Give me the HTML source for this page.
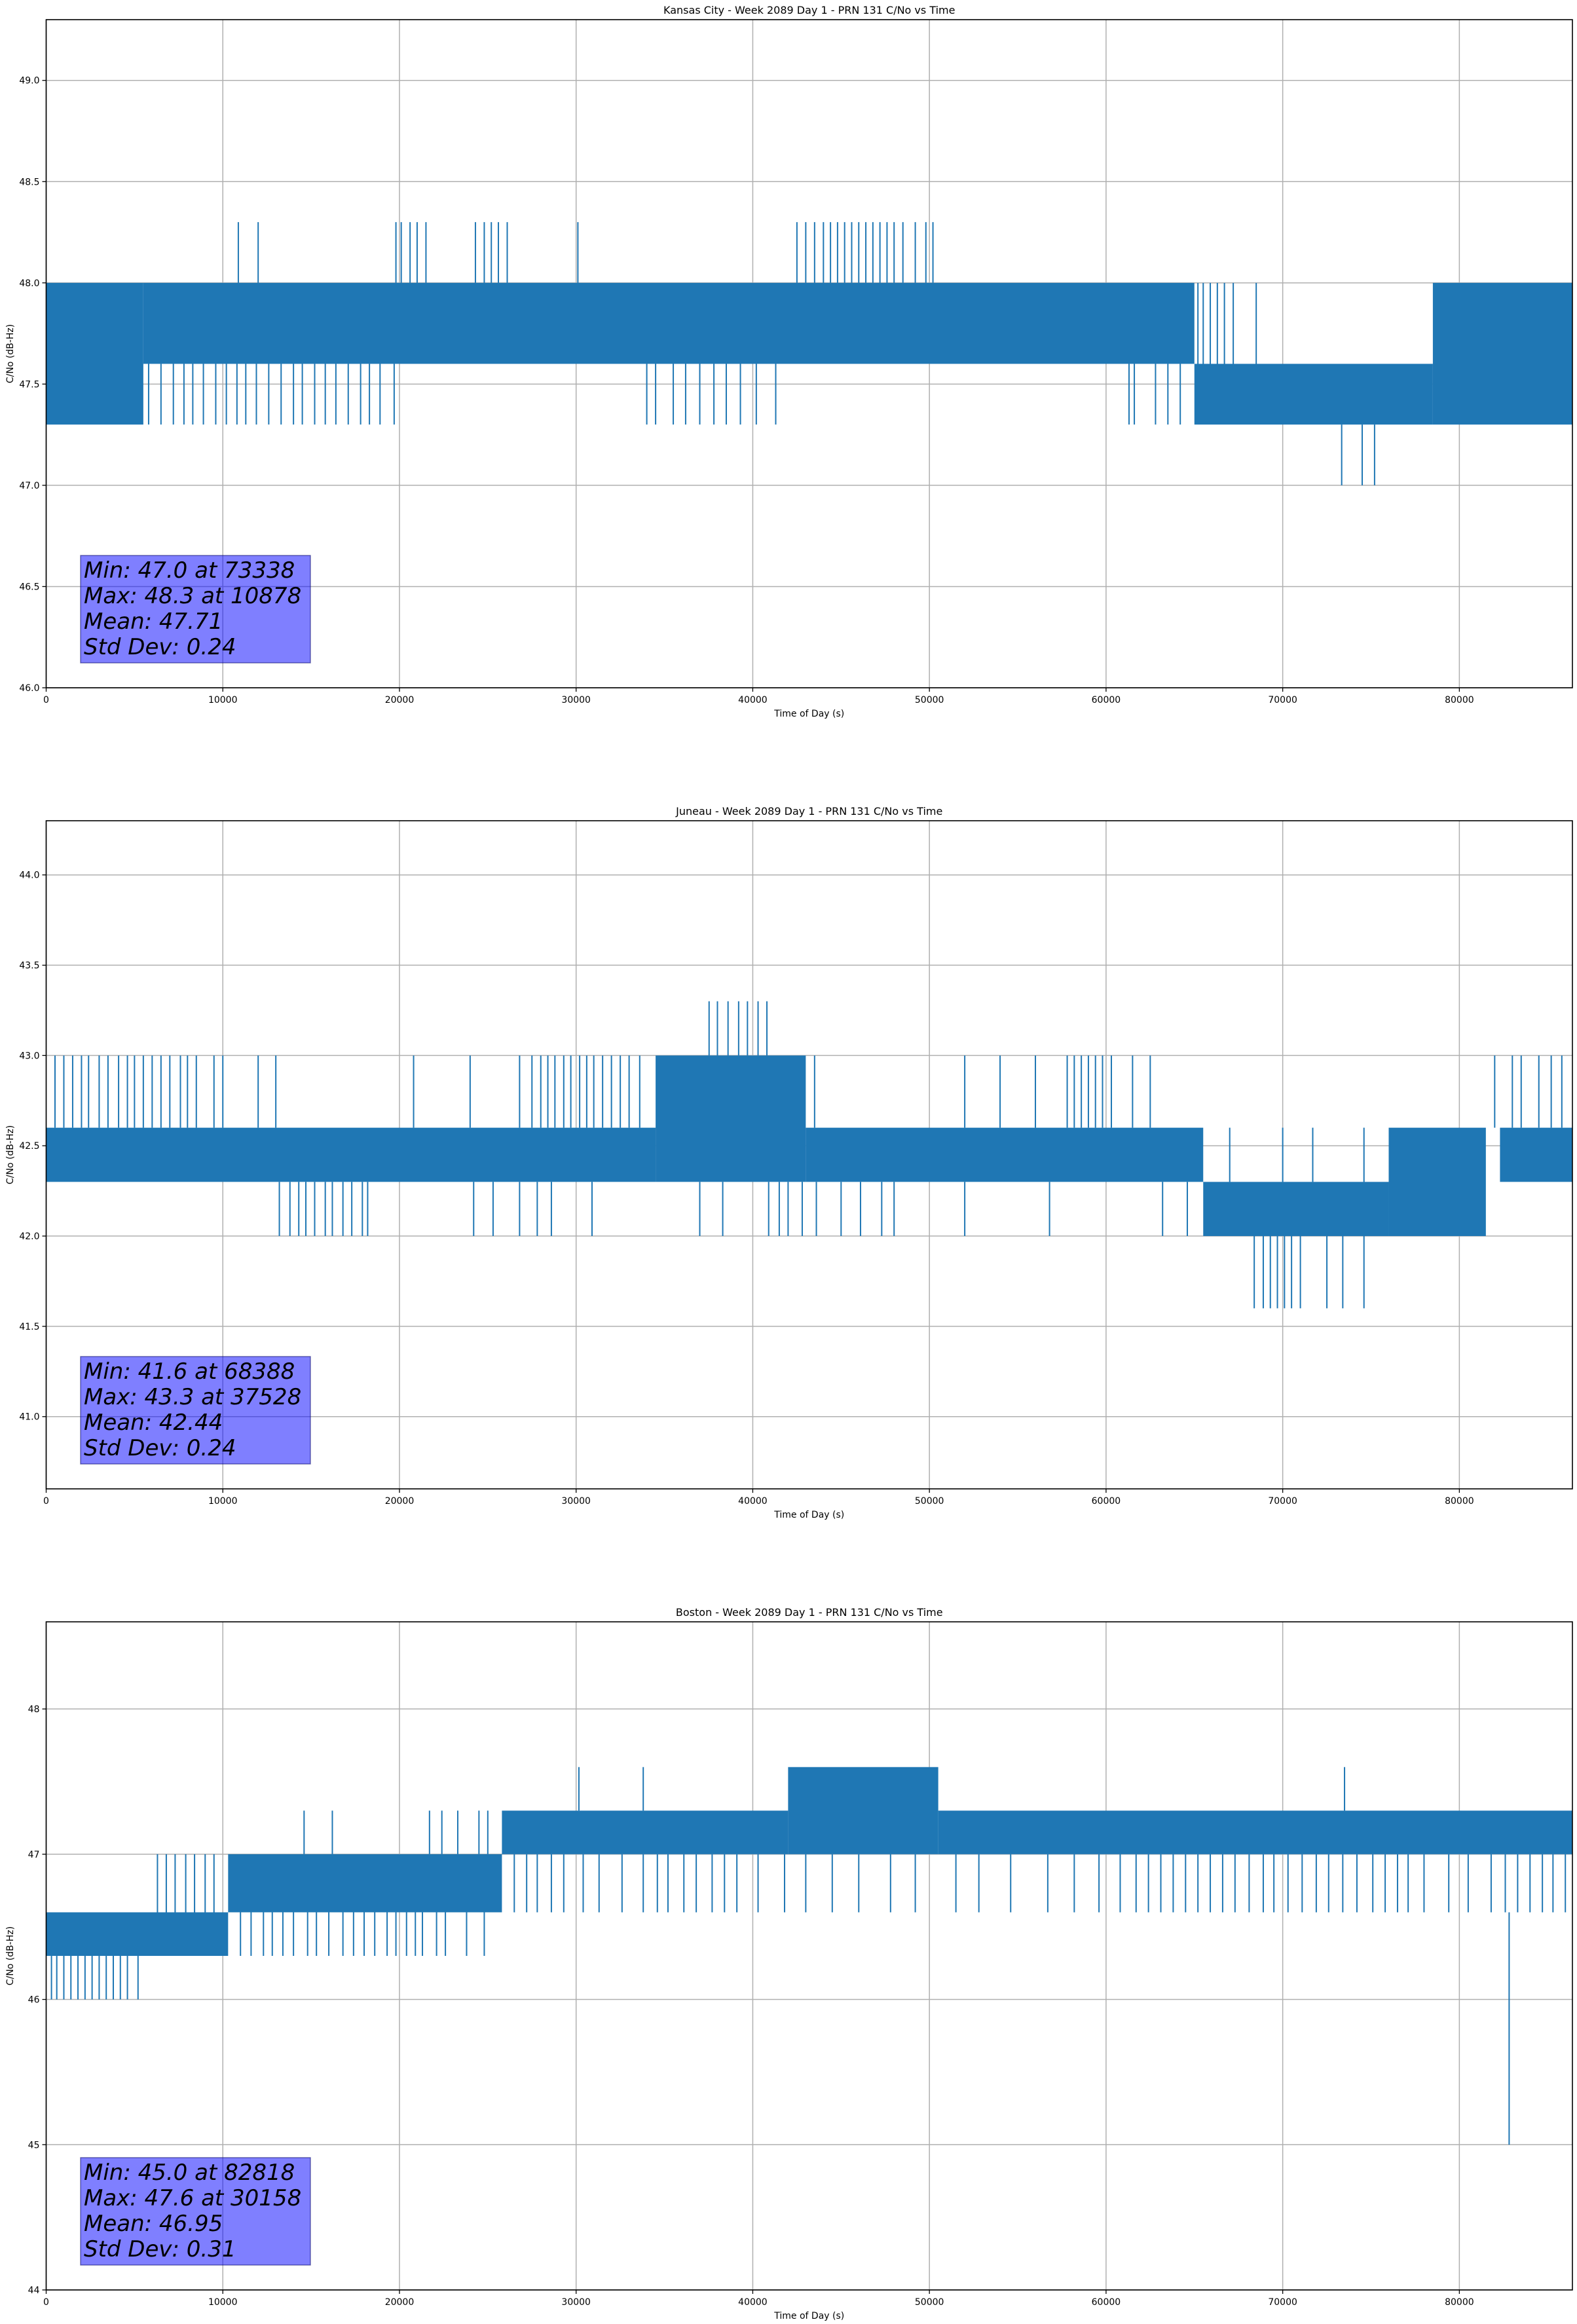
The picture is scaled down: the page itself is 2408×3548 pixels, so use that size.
<!DOCTYPE html>
<html><head><meta charset="utf-8">
<style>
html,body{margin:0;padding:0;background:#fff;}
svg{display:block;}
text{font-family:"DejaVu Sans","Liberation Sans",sans-serif;fill:#000;}
</style></head>
<body>
<svg id="fig" width="2408" height="3548" viewBox="0 0 2408 3548" xmlns="http://www.w3.org/2000/svg"></svg>
<script>
// ---------- Data ----------
const xTicks = [0,10000,20000,30000,40000,50000,60000,70000,80000];
const xMax = 86400;

// Kansas City
const kcTitle = "Kansas City - Week 2089 Day 1 - PRN 131 C/No vs Time";
const kcYTicks = [46.0,46.5,47.0,47.5,48.0,48.5,49.0];
const kcYRange = [46.0,49.3];
const kcBandStart = [0,5500,65000,78500];
const kcBandEnd = [5500,65000,78500,86400];
const kcBandLow = [47.3,47.6,47.3,47.3];
const kcBandHigh = [48.0,48.0,47.6,48.0];
const kcDownT = [5800,6500,7200,7800,8300,8900,9600,10200,10800,11300,11900,12600,13300,14000,14500,15200,15800,16400,17100,17800,18300,18900,19700,34000,34500,35500,36200,37000,37800,38500,39300,40200,41300,61300,61600,62800,63500,64200];
const kcUpT = [10878,12000,19800,20100,20600,21000,21500,24300,24800,25200,25600,26100,30100,42500,43000,43500,44000,44400,44800,45200,45600,46000,46400,46800,47200,47600,48000,48500,49200,49800,50200];
const kcMidUpT = [65200,65500,65900,66300,66700,67200,68500];
const kcMinT = [73338,74500,75200];
const kcStats = ["Min: 47.0 at 73338","Max: 48.3 at 10878","Mean: 47.71","Std Dev: 0.24"];

// Juneau
const jnTitle = "Juneau - Week 2089 Day 1 - PRN 131 C/No vs Time";
const jnYTicks = [41.0,41.5,42.0,42.5,43.0,43.5,44.0];
const jnYRange = [40.6,44.3];
const jnBandStart = [0,34500,43000,65500,76000,82300];
const jnBandEnd = [34500,43000,65500,76000,81500,86400];
const jnBandLow = [42.3,42.3,42.3,42.0,42.0,42.3];
const jnBandHigh = [42.6,43.0,42.6,42.3,42.6,42.6];
const jnUpT = [500,1000,1500,2000,2400,3000,3500,4100,4600,5000,5500,6000,6500,7000,7600,8000,8500,9500,10000,12000,13000,20800,24000,26800,27500,28000,28400,28800,29300,29700,30200,30600,31000,31500,32000,32500,33000,33600,43500,52000,54000,56000,57800,58200,58600,59000,59400,59800,60300,61500,62500,82000,83000,83500,84500,85200,85800];
const jnTopT = [37528,38000,38600,39200,39700,40300,40800];
const jnDownT = [13200,13800,14300,14700,15200,15800,16200,16800,17300,17900,18200,24200,25300,26800,27800,28600,30900,37000,38300,40900,41500,42000,42800,43600,45000,46100,47300,48000,52000,56800,63200,64600];
const jnLowT = [68388,68900,69300,69700,70100,70500,71000,72500,73400,74600];
const jnMidUpT = [67000,70000,71700,74600];
const jnStats = ["Min: 41.6 at 68388","Max: 43.3 at 37528","Mean: 42.44","Std Dev: 0.24"];

// Boston
const bsTitle = "Boston - Week 2089 Day 1 - PRN 131 C/No vs Time";
const bsYTicks = [44,45,46,47,48];
const bsYRange = [44.0,48.6];
const bsBandStart = [0,10300,25800,42000,50500];
const bsBandEnd = [10300,25800,42000,50500,86400];
const bsBandLow = [46.3,46.6,47.0,47.0,47.0];
const bsBandHigh = [46.6,47.0,47.3,47.6,47.3];
const bsLow46T = [300,600,1000,1400,1800,2200,2600,3000,3400,3800,4200,4600,5200];
const bsUp47T = [6300,6800,7300,7900,8400,9000,9500];
const bsDown463T = [11000,11600,12300,12800,13400,14000,14800,15300,16000,16800,17400,18000,18600,19300,19800,20400,20900,21300,22100,22600,23800,24800];
const bsUp473T = [14600,16200,21700,22400,23300,24500,25000];
const bsDown466T = [26500,27200,27800,28600,29300,30400,31300,32600,33800,34600,35200,36100,36800,37700,38400,39100,40300,41800,43000,44500,46000,47800,49200,51500,52800,54600,56700,58200,59600,60800,61700,62400,63100,63800,64500,65200,65900,66600,67300,68100,68900,69500,70300,71100,71900,72600,73400,74200,75100,75800,76500,77100,78000,79400,80500,81800,82600,83300,84000,84700,85300,86000];
const bsUp476T = [30158,33800,73500];
const bsMinT = [82818];
const bsStats = ["Min: 45.0 at 82818","Max: 47.6 at 30158","Mean: 46.95","Std Dev: 0.31"];

// ---------- Drawing ----------
const NS = "http://www.w3.org/2000/svg";
const fig = document.getElementById('fig');
const L = 70.5, R = 2401, H = 1020;
const BLUE = "#1f77b4";
function mk(tag, attrs, parent){
  const e = document.createElementNS(NS, tag);
  for (const k in attrs) e.setAttribute(k, attrs[k]);
  parent.appendChild(e);
  return e;
}

function drawChart(name, top, title, yTicks, yRange, fmt, bands, spikeGroups, stats){
  const g = mk('g', {}, fig);
  
  
  const bottom = top + H;
  const xs = t => L + t / xMax * (R - L);
  const ys = v => bottom - (v - yRange[0]) / (yRange[1] - yRange[0]) * H;

  xTicks.forEach(t => {
    const l = mk('line', {x1:xs(t), x2:xs(t), y1:top, y2:bottom, stroke:'#b0b0b0', 'stroke-width':1.5}, g);
    
    
  });
  yTicks.forEach(v => {
    const l = mk('line', {x1:L, x2:R, y1:ys(v), y2:ys(v), stroke:'#b0b0b0', 'stroke-width':1.5}, g);
    
    
  });

  const [bs, be, bl, bh] = bands;
  for (let i = 0; i < bs.length; i++) {
    const r = mk('rect', {x:xs(bs[i]), y:ys(bh[i]), width:xs(be[i]) - xs(bs[i]), height:ys(bl[i]) - ys(bh[i]), fill:BLUE}, g);
    
    
  }
  spikeGroups.forEach(([times, from, to]) => {
    times.forEach(t => {
      const l = mk('line', {x1:xs(t), x2:xs(t), y1:ys(from), y2:ys(to), stroke:BLUE, 'stroke-width':2}, g);
      
      
    });
  });

  const f = mk('rect', {x:L, y:top, width:R - L, height:H, fill:'none', stroke:'#000', 'stroke-width':1.6}, g);
  
  

  xTicks.forEach(t => {
    mk('line', {x1:xs(t), x2:xs(t), y1:bottom, y2:bottom + 6, stroke:'#000', 'stroke-width':1.3}, g);
    const tx = mk('text', {x:xs(t), y:bottom + 23, 'font-size':14, 'text-anchor':'middle'}, g);
    tx.textContent = String(t);
    
    
  });
  yTicks.forEach(v => {
    mk('line', {x1:L - 6, x2:L, y1:ys(v), y2:ys(v), stroke:'#000', 'stroke-width':1.3}, g);
    const tx = mk('text', {x:L - 10, y:ys(v) + 5, 'font-size':14, 'text-anchor':'end'}, g);
    tx.textContent = fmt(v);
    
    
  });

  const tt = mk('text', {x:(L + R) / 2, y:top - 9, 'font-size':16, 'text-anchor':'middle'}, g);
  tt.textContent = title;
  
  
  const xl = mk('text', {x:(L + R) / 2, y:bottom + 44, 'font-size':14, 'text-anchor':'middle'}, g);
  xl.textContent = "Time of Day (s)";
  
  
  const cy = top + H / 2;
  const yl = mk('text', {x:20, y:cy, 'font-size':14, 'text-anchor':'middle', transform:`rotate(-90 20 ${cy})`}, g);
  yl.textContent = "C/No (dB-Hz)";
  
  

  const boxB = bottom - 38, boxT = boxB - 164;
  const sb = mk('rect', {x:123, y:boxT, width:351, height:164, fill:'rgba(0,0,255,0.5)', stroke:'rgba(0,0,100,0.5)', 'stroke-width':1.5}, g);
  
  
  stats.forEach((s, i) => {
    const st = mk('text', {x:128, y:boxT + 34 + i * 39, 'font-size':34, 'font-style':'italic'}, g);
    st.textContent = s;
    
    
  });
}

const f1 = v => v.toFixed(1);
const f0 = v => v.toFixed(0);

drawChart('kansas-city', 30, kcTitle, kcYTicks, kcYRange, f1,
  [kcBandStart, kcBandEnd, kcBandLow, kcBandHigh],
  [[kcDownT, 47.6, 47.3], [kcUpT, 48.0, 48.3], [kcMidUpT, 47.6, 48.0], [kcMinT, 47.3, 47.0]],
  kcStats);

drawChart('juneau', 1253, jnTitle, jnYTicks, jnYRange, f1,
  [jnBandStart, jnBandEnd, jnBandLow, jnBandHigh],
  [[jnUpT, 42.6, 43.0], [jnTopT, 43.0, 43.3], [jnDownT, 42.3, 42.0], [jnLowT, 42.0, 41.6], [jnMidUpT, 42.3, 42.6]],
  jnStats);

drawChart('boston', 2476, bsTitle, bsYTicks, bsYRange, f0,
  [bsBandStart, bsBandEnd, bsBandLow, bsBandHigh],
  [[bsLow46T, 46.3, 46.0], [bsUp47T, 46.6, 47.0], [bsDown463T, 46.6, 46.3], [bsUp473T, 47.0, 47.3], [bsDown466T, 47.0, 46.6], [bsUp476T, 47.3, 47.6], [bsMinT, 46.6, 45.0]],
  bsStats);
</script>
</body></html>
